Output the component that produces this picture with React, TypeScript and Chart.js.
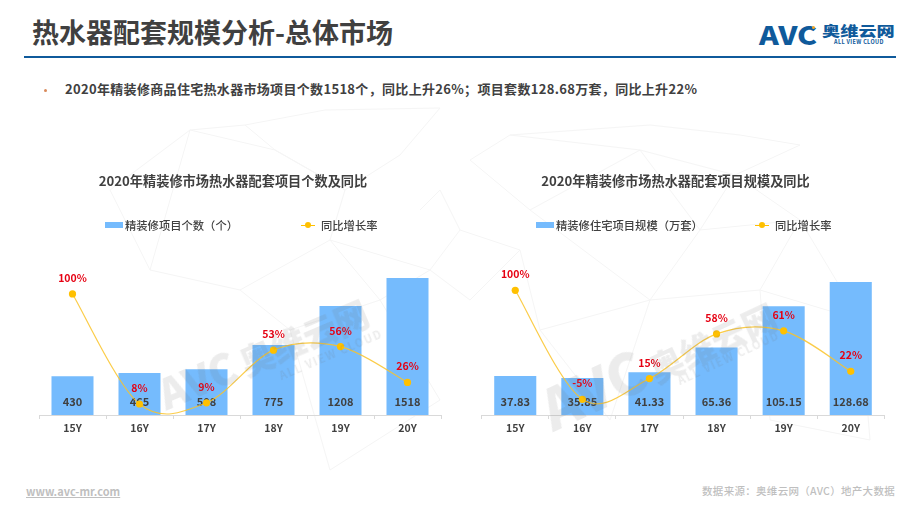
import React, { useEffect, useRef } from "react";
import { Chart, registerables } from "chart.js";

Chart.register(...registerables);

const FONT = '"Noto Sans CJK SC", "Noto Sans", sans-serif';
const categories = ["15Y", "16Y", "17Y", "18Y", "19Y", "20Y"];

const projectCounts = [430, 465, 508, 775, 1208, 1518];
const projectCountLabels = ["430", "465", "508", "775", "1208", "1518"];
const projectCountGrowth = [100, 8, 9, 53, 56, 26];

const projectScale = [37.83, 35.85, 41.33, 65.36, 105.15, 128.68];
const projectScaleLabels = ["37.83", "35.85", "41.33", "65.36", "105.15", "128.68"];
const projectScaleGrowth = [100, -5, 15, 58, 61, 22];

const BAR = "#75BBFD";
const LINE = "#FFC000";
const RED = "#E60012";
const TEXT = "#404040";
const BRAND = "#0F5A9B";

const labelsPlugin = {
  id: "valueLabels",
  // Office-style smoothing: uniform Catmull-Rom control points on the line.
  beforeDatasetDraw(chart: any, args: any) {
    if (args.index !== 1) return;
    const line = args.meta.dataset;
    line.updateControlPoints(chart.chartArea, "x");
    const pts = args.meta.data;
    pts.forEach((pt: any, i: number) => {
      const prev = pts[Math.max(i - 1, 0)];
      const next = pts[Math.min(i + 1, pts.length - 1)];
      const dx = (next.x - prev.x) / 6;
      const dy = (next.y - prev.y) / 6;
      pt.cp1x = pt.x - dx;
      pt.cp1y = pt.y - dy;
      pt.cp2x = pt.x + dx;
      pt.cp2y = pt.y + dy;
    });
  },
  afterLayout(chart: any, _args: any, opts: any) {
    chart.titleBlock.left += opts.titleShift;
    chart.titleBlock.right += opts.titleShift;
  },
  afterDatasetDraw(chart: any, args: any, opts: any) {
    const { ctx } = chart;
    ctx.save();
    ctx.textAlign = "center";
    ctx.textBaseline = "middle";
    if (args.index === 0) {
      ctx.font = `bold 11px ${FONT}`;
      ctx.fillStyle = TEXT;
      args.meta.data.forEach((bar: any, i: number) => {
        ctx.fillText(opts.barLabels[i], bar.x, chart.chartArea.bottom - 13);
      });
    } else {
      ctx.font = `bold 10.5px ${FONT}`;
      ctx.fillStyle = RED;
      args.meta.data.forEach((pt: any, i: number) => {
        ctx.fillText(`${opts.growth[i]}%`, pt.x, pt.y - 16);
      });
    }
    ctx.restore();
  },
};

interface PanelProps {
  title: string;
  barName: string;
  bars: number[];
  barLabels: string[];
  growth: number[];
  left: number;
  width: number;
  padLeft: number;
  padRight: number;
  barMax: number;
  lineMin: number;
  lineMax: number;
  titleShift: number;
}

function Panel(p: PanelProps) {
  const ref = useRef<HTMLCanvasElement>(null);
  useEffect(() => {
    const chart = new Chart(ref.current!, {
      data: {
        labels: categories,
        datasets: [
          {
            type: "bar",
            label: p.barName,
            data: p.bars,
            backgroundColor: BAR,
            yAxisID: "y",
            order: 2,
            categoryPercentage: 1,
            barPercentage: 0.627,
          },
          {
            type: "line",
            label: "同比增长率",
            data: p.growth,
            borderColor: "rgba(250,195,40,0.85)",
            backgroundColor: LINE,
            borderWidth: 1.2,
            pointRadius: 3.6,
            pointBackgroundColor: LINE,
            pointBorderWidth: 0,
            tension: 0.4,
            capBezierPoints: false,
            yAxisID: "y1",
            order: 1,
            clip: false,
          },
        ],
      } as any,
      options: {
        animation: false,
        responsive: false,
        layout: { padding: { left: p.padLeft, right: p.padRight, top: 0, bottom: 0 } },
        plugins: {
          legend: { display: false },
          tooltip: { enabled: false },
          title: {
            display: true,
            text: p.title,
            color: TEXT,
            font: { family: FONT, size: 13.2, weight: "bold" },
            padding: { top: 0, bottom: 75.2 },
          },
          valueLabels: { barLabels: p.barLabels, growth: p.growth, titleShift: p.titleShift },
        } as any,
        scales: {
          x: {
            offset: true,
            border: { color: "#D9D9D9" },
            grid: { drawOnChartArea: false, color: "#D9D9D9", tickLength: 4, offset: true },
            ticks: {
              color: TEXT,
              padding: 3,
              maxRotation: 0,
              font: { family: FONT, size: 10.5, weight: "bold" },
            },
            afterFit: (s: any) => {
              s.height = 25;
            },
          },
          y: { display: false, min: 0, max: p.barMax },
          y1: { display: false, min: p.lineMin, max: p.lineMax },
        },
      } as any,
      plugins: [labelsPlugin as any],
    });
    return () => chart.destroy();
  }, []);
  return (
    <canvas
      ref={ref}
      width={p.width}
      height={267}
      style={{ position: "absolute", left: p.left, top: 173, width: p.width, height: 267 }}
    />
  );
}

const abs = (o: React.CSSProperties): React.CSSProperties => ({
  position: "absolute",
  whiteSpace: "nowrap",
  fontFamily: FONT,
  ...o,
});

function LegendRow({ x1, barName, x2, x3 }: { x1: number; barName: string; x2: number; x3: number }) {
  const text: React.CSSProperties = { top: 217, fontSize: 11.3, lineHeight: "16px", color: TEXT, fontWeight: 500 };
  return (
    <>
      <div style={abs({ left: x1, top: 222, width: 18, height: 6, background: BAR })} />
      <div style={abs({ left: x1 + 20, ...text })}>{barName}</div>
      <div style={abs({ left: x2, top: 224.5, width: 14, height: 1.2, background: LINE })} />
      <div style={abs({ left: x2 + 4, top: 222, width: 6, height: 6, borderRadius: 3, background: LINE })} />
      <div style={abs({ left: x3, ...text })}>同比增长率</div>
    </>
  );
}

function Watermark({ x, y, angle, size, subLeft }: { x: number; y: number; angle: number; size: number; subLeft: number }) {
  return (
    <div
      style={abs({
        left: x,
        top: y,
        transform: `rotate(${angle}deg)`,
        transformOrigin: "0 50%",
        opacity: 0.13,
        color: "#6b6b6b",
        pointerEvents: "none",
      })}
    >
      <span style={{ fontSize: size, fontWeight: 900, lineHeight: "56px" }}>AVC</span>
      <span style={{ fontSize: 34, fontWeight: 900, marginLeft: 6, lineHeight: "56px" }}>奥维云网</span>
      <div style={abs({ left: subLeft, top: 50, fontSize: 11, fontWeight: 700, letterSpacing: 1.5 })}>ALL VIEW CLOUD</div>
    </div>
  );
}

const meshLines = [
  "110,190 190,130 245,125 325,110 440,108 400,155 345,190 275,150 245,125",
  "110,190 150,270 240,290 330,240 345,190 275,150 190,130 150,270",
  "240,290 290,330 380,300 330,240 430,270 380,300 440,400 330,470 290,330",
  "420,210 440,190 460,230 430,270 470,300 520,250 460,230",
  "470,160 510,135 650,125 740,135 800,145 735,175 640,150 510,135",
  "470,160 530,210 640,150 700,230 735,175 800,220 700,230 650,300 530,210",
  "650,300 760,290 800,220 860,320 760,290 770,420 870,440 860,320",
  "520,250 540,330 650,300 610,420 540,330",
];

export default function App() {
  return (
    <div style={{ position: "absolute", left: 0, top: 0, width: 920, height: 517, overflow: "hidden", background: "#fff" }}>
      <svg width={920} height={517} style={{ position: "absolute", left: 0, top: 0 }}>
        {meshLines.map((pts, i) => (
          <polyline key={i} points={pts} fill="none" stroke="#F5F5F5" strokeWidth={1} />
        ))}
      </svg>

      <div style={abs({ left: 32, top: 12, fontSize: 27, lineHeight: "40px", fontWeight: 700, color: TEXT })}>
        热水器配套规模分析-总体市场
      </div>
      <div style={abs({ left: 24, top: 56, width: 872, height: 2, background: BRAND })} />

      <div style={abs({ left: 759, top: 16, fontSize: 25, lineHeight: "36px", fontWeight: 900, color: BRAND, transform: "scaleX(1.2)", transformOrigin: "0 50%" })}>
        AVC
      </div>
      <div style={abs({ left: 812, top: 26, width: 3, height: 3, borderRadius: 2, background: "#F5A623" })} />
      <div style={abs({ left: 822, top: 20, fontSize: 18.2, lineHeight: "20px", fontWeight: 900, color: BRAND, transform: "scaleY(0.72)" })}>奥维云网</div>
      <div style={abs({ left: 834, top: 38, fontSize: 5.5, lineHeight: "8px", fontWeight: 700, color: BRAND, letterSpacing: 0.35 })}>
        ALL VIEW CLOUD
      </div>

      <div style={abs({ left: 43.5, top: 88.5, width: 3, height: 3, borderRadius: 2, background: "#D98A5B" })} />
      <div style={abs({ left: 65, top: 79, fontSize: 13, lineHeight: "20px", fontWeight: 700, color: TEXT, letterSpacing: 0.32 })}>
        2020年精装修商品住宅热水器市场项目个数1518个，同比上升26%；项目套数128.68万套，同比上升22%
      </div>

      <Panel
        title="2020年精装修市场热水器配套项目个数及同比"
        barName="精装修项目个数"
        bars={projectCounts}
        barLabels={projectCountLabels}
        growth={projectCountGrowth}
        left={4}
        width={458}
        padLeft={35}
        padRight={21}
        barMax={1674}
        lineMin={-1.2}
        lineMax={125}
        titleShift={-7}
      />
      <Panel
        title="2020年精装修市场热水器配套项目规模及同比"
        barName="精装修住宅项目规模"
        bars={projectScale}
        barLabels={projectScaleLabels}
        growth={projectScaleGrowth}
        left={462}
        width={427}
        padLeft={19.7}
        padRight={4.7}
        barMax={146.1}
        lineMin={-20.1}
        lineMax={125.3}
        titleShift={-7.5}
      />

      <LegendRow x1={105} barName="精装修项目个数（个）" x2={301} x3={321} />
      <LegendRow x1={536} barName="精装修住宅项目规模（万套）" x2={755} x3={775} />

      <Watermark x={160} y={366} angle={-23} size={42} subLeft={118} />
      <Watermark x={545} y={382} angle={-25} size={56} subLeft={135} />

      <div style={abs({ left: 26, top: 483, fontSize: 11, lineHeight: "16px", fontWeight: 700, color: "#BFBFBF", textDecoration: "underline" })}>
        www.avc-mr.com
      </div>
      <div style={abs({ right: 25, top: 483, fontSize: 10.5, lineHeight: "16px", fontWeight: 500, color: "#BFBFBF", letterSpacing: 0.3 })}>
        数据来源：奥维云网（AVC）地产大数据
      </div>
    </div>
  );
}
